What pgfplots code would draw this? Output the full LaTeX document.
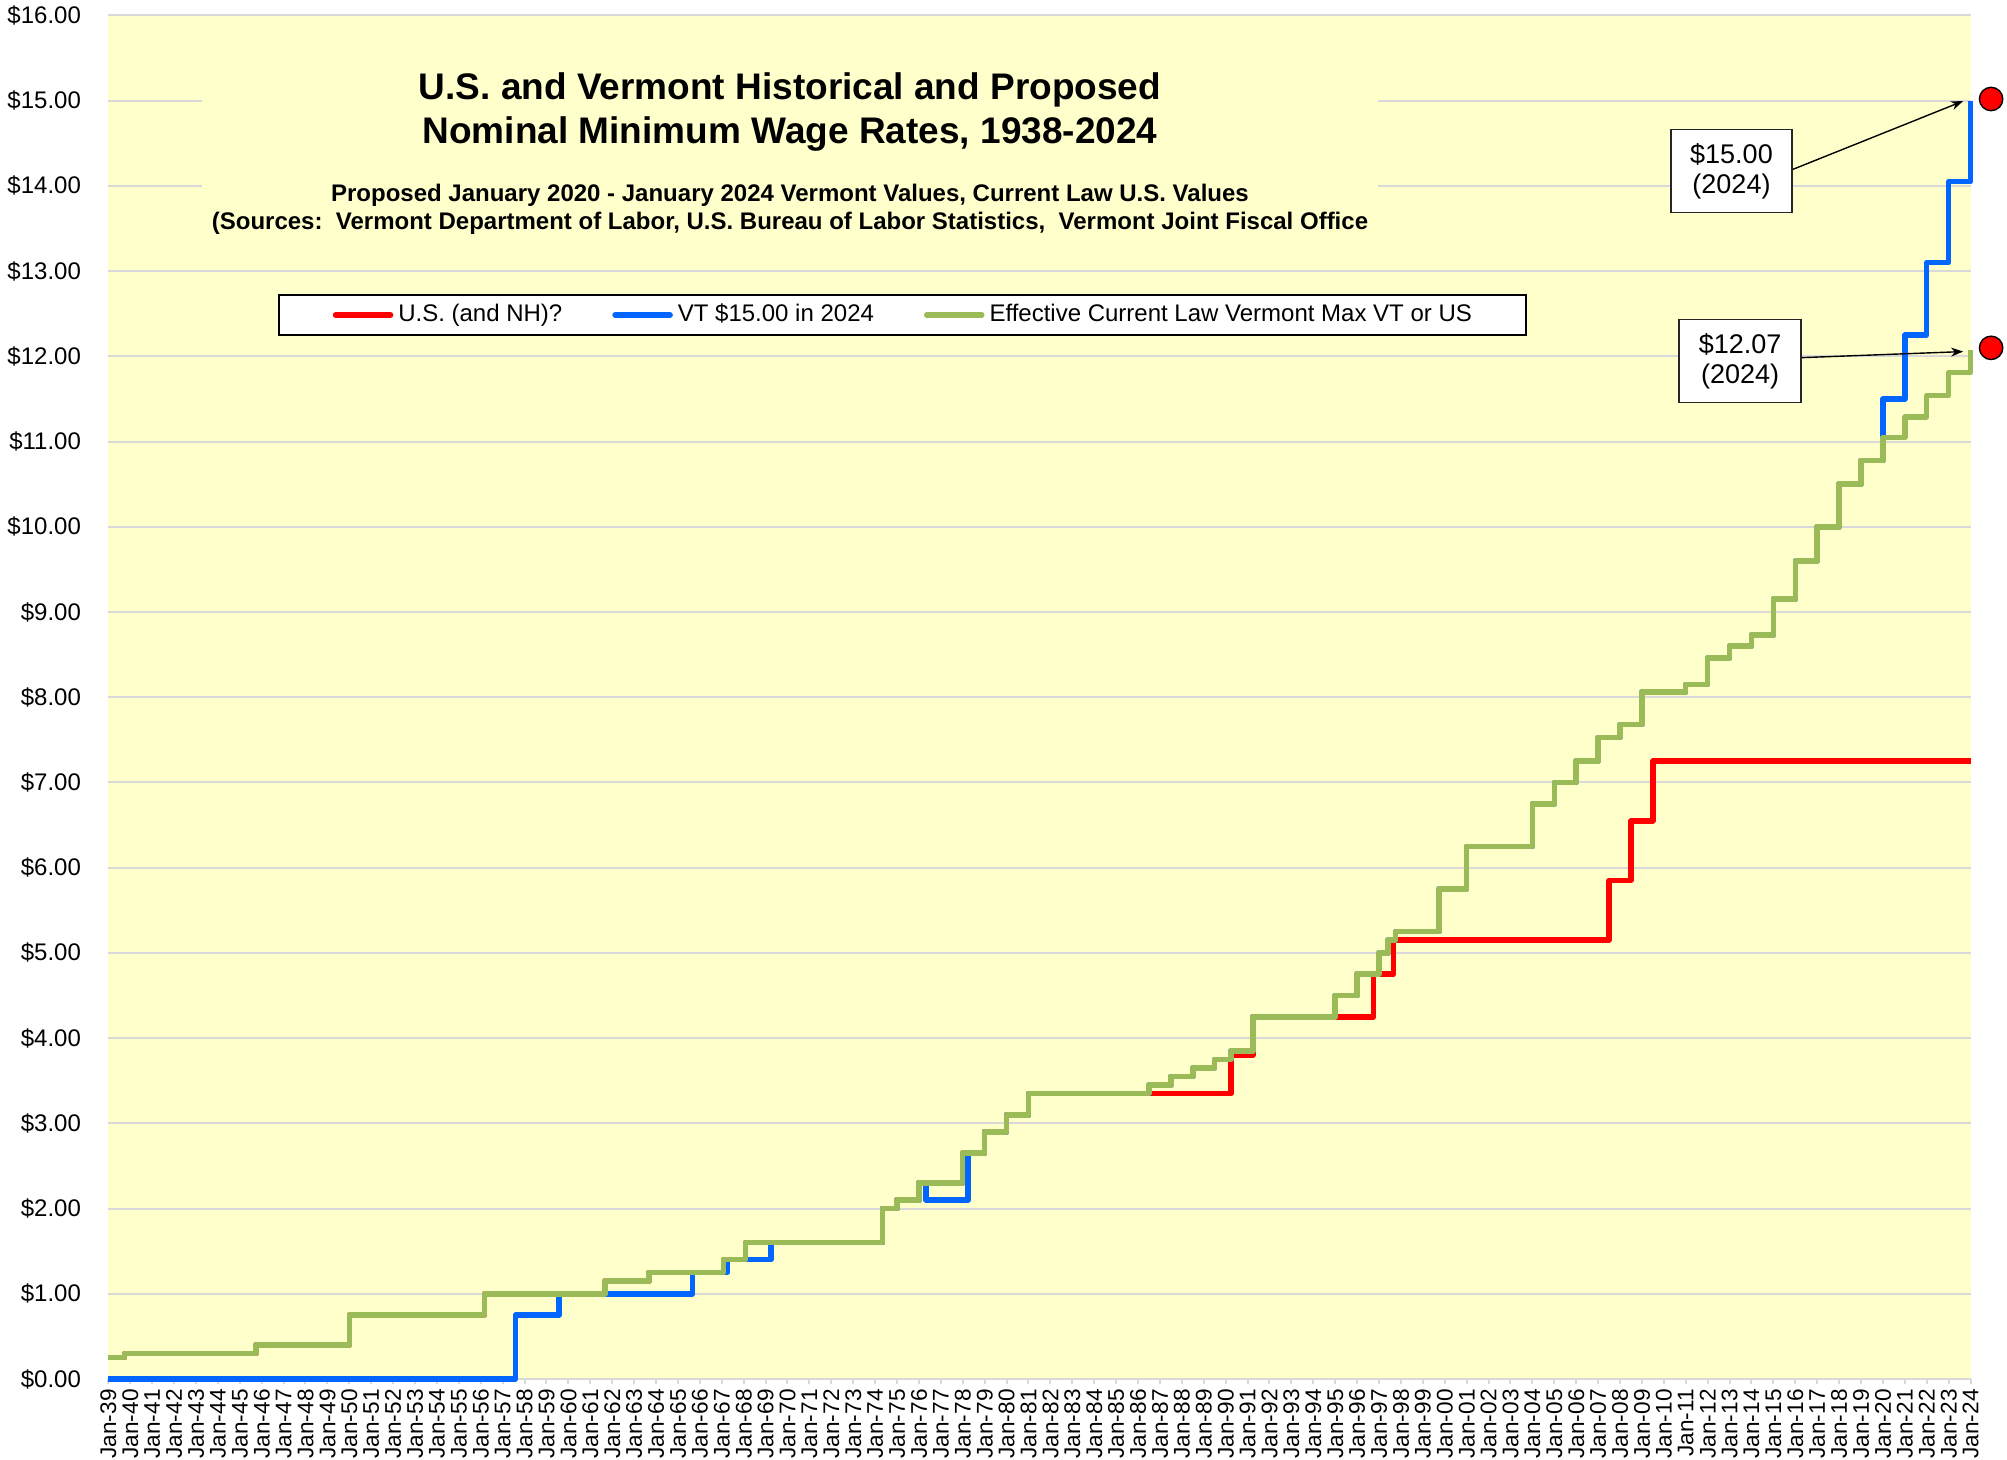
\documentclass[border=0pt]{standalone}
\usepackage{fontspec}
\setmainfont{Liberation Sans}
\usepackage{pgfplots}
\pgfplotsset{compat=1.18}
\usetikzlibrary{arrows.meta}
\definecolor{bgyellow}{HTML}{FFFFCC}
\definecolor{gridgray}{HTML}{D9D9D9}
\definecolor{usred}{HTML}{FF0000}
\definecolor{vtblue}{HTML}{0066FF}
\definecolor{effgreen}{HTML}{9BBB59}
\begin{document}
\begin{tikzpicture}
\useasboundingbox (-54.15bp,-40.5bp) rectangle (949.35bp,689.5bp);
\begin{axis}[
  at={(0,0)}, anchor=south west,
  scale only axis, width=931.1bp, height=681.75bp,
  xmin=1939, xmax=2024, ymin=0, ymax=16,
  clip=false,
  axis background/.style={fill=bgyellow},
  axis line style={draw=none},
  ymajorgrids, major grid style={draw=gridgray, line width=1bp},
  ytick={0,1,...,16},
  yticklabels={\$0.00,\$1.00,\$2.00,\$3.00,\$4.00,\$5.00,\$6.00,\$7.00,\$8.00,\$9.00,\$10.00,\$11.00,\$12.00,\$13.00,\$14.00,\$15.00,\$16.00},
  xtick={1939,1940,...,2024},
  xticklabels={Jan-39,Jan-40,Jan-41,Jan-42,Jan-43,Jan-44,Jan-45,Jan-46,Jan-47,Jan-48,Jan-49,Jan-50,Jan-51,Jan-52,Jan-53,Jan-54,Jan-55,Jan-56,Jan-57,Jan-58,Jan-59,Jan-60,Jan-61,Jan-62,Jan-63,Jan-64,Jan-65,Jan-66,Jan-67,Jan-68,Jan-69,Jan-70,Jan-71,Jan-72,Jan-73,Jan-74,Jan-75,Jan-76,Jan-77,Jan-78,Jan-79,Jan-80,Jan-81,Jan-82,Jan-83,Jan-84,Jan-85,Jan-86,Jan-87,Jan-88,Jan-89,Jan-90,Jan-91,Jan-92,Jan-93,Jan-94,Jan-95,Jan-96,Jan-97,Jan-98,Jan-99,Jan-00,Jan-01,Jan-02,Jan-03,Jan-04,Jan-05,Jan-06,Jan-07,Jan-08,Jan-09,Jan-10,Jan-11,Jan-12,Jan-13,Jan-14,Jan-15,Jan-16,Jan-17,Jan-18,Jan-19,Jan-20,Jan-21,Jan-22,Jan-23,Jan-24},
  xtick pos=bottom, ytick pos=left,
  ytick style={draw=none},
  xtick style={draw=gridgray, line width=1bp},
  tick align=outside, major tick length=2.5bp,
  x tick label style={yshift=-2.5bp, rotate=90, anchor=east, font=\fontsize{11.3bp}{13bp}\selectfont, inner sep=0pt, text depth=0pt},
  y tick label style={xshift=-11bp, anchor=east, font=\fontsize{12bp}{14bp}\selectfont, inner sep=0pt},
  /pgf/number format/assume math mode=true,
  legend columns=3,
  legend style={at={(0.4264,0.7803)}, anchor=center, draw=black, line width=1bp, fill=white,
    inner xsep=27bp, inner ysep=4.5bp, font=\fontsize{12bp}{14bp}\selectfont,
    nodes={inner sep=0pt, text height=8.8bp, text depth=2.6bp},
    /tikz/every odd column/.append style={column sep=2.5bp},
    /tikz/every even column/.append style={column sep=25bp}},
  legend cell align=left,
  legend image code/.code={\draw[#1, line width=2.75bp, line cap=round] (0bp,0bp) -- (27.5bp,0bp);},
]
% title box
\fill[bgyellow] ([xshift=46.85bp,yshift=567bp]rel axis cs:0,0) rectangle ([xshift=634.85bp,yshift=664.5bp]rel axis cs:0,0);

\addplot[const plot, color=usred, line width=2.75bp, line join=round] coordinates {
(1939.00,0.25) (1939.75,0.30) (1945.75,0.40) (1950.00,0.75) (1956.17,1.00)
(1961.67,1.15) (1963.67,1.25) (1967.08,1.40) (1968.08,1.60) (1974.33,2.00)
(1975.00,2.10) (1976.00,2.30) (1978.00,2.65) (1979.00,2.90) (1980.00,3.10)
(1981.00,3.35) (1990.25,3.80) (1991.25,4.25) (1996.75,4.75) (1997.67,5.15)
(2007.50,5.85) (2008.50,6.55) (2009.50,7.25) (2024.00,7.25)};
\addlegendentry{U.S. (and NH)?}

\addplot[const plot, color=vtblue, line width=2.75bp, line join=round] coordinates {
(1939.00,0.00) (1957.58,0.75) (1959.58,1.00) (1965.67,1.25) (1967.25,1.40)
(1969.25,1.60) (1974.33,2.00) (1975.00,2.10) (1976.00,2.30) (1976.33,2.10)
(1978.25,2.65) (1979.00,2.90) (1980.00,3.10) (1981.00,3.35) (1986.50,3.45)
(1987.50,3.55) (1988.50,3.65) (1989.50,3.75) (1990.25,3.85) (1991.25,4.25)
(1995.00,4.50) (1996.00,4.75) (1997.00,5.00) (1997.42,5.15) (1997.75,5.25)
(1999.75,5.75) (2001.00,6.25) (2004.00,6.75) (2005.00,7.00) (2006.00,7.25)
(2007.00,7.53) (2008.00,7.68) (2009.00,8.06) (2011.00,8.15) (2012.00,8.46)
(2013.00,8.60) (2014.00,8.73) (2015.00,9.15) (2016.00,9.60) (2017.00,10.00)
(2018.00,10.50) (2019.00,10.78) (2020.00,11.50) (2021.00,12.25) (2022.00,13.10)
(2023.00,14.05) (2024.00,15.00)};
\addlegendentry{VT \$15.00 in 2024}

\addplot[const plot, color=effgreen, line width=2.75bp, line join=round] coordinates {
(1939.00,0.25) (1939.75,0.30) (1945.75,0.40) (1950.00,0.75) (1956.17,1.00)
(1961.67,1.15) (1963.67,1.25) (1967.08,1.40) (1968.08,1.60) (1974.33,2.00)
(1975.00,2.10) (1976.00,2.30) (1978.00,2.65) (1979.00,2.90) (1980.00,3.10)
(1981.00,3.35) (1986.50,3.45) (1987.50,3.55) (1988.50,3.65) (1989.50,3.75)
(1990.25,3.85) (1991.25,4.25) (1995.00,4.50) (1996.00,4.75) (1997.00,5.00)
(1997.42,5.15) (1997.75,5.25) (1999.75,5.75) (2001.00,6.25) (2004.00,6.75)
(2005.00,7.00) (2006.00,7.25) (2007.00,7.53) (2008.00,7.68) (2009.00,8.06)
(2011.00,8.15) (2012.00,8.46) (2013.00,8.60) (2014.00,8.73) (2015.00,9.15)
(2016.00,9.60) (2017.00,10.00) (2018.00,10.50) (2019.00,10.78) (2020.00,11.05)
(2021.00,11.29) (2022.00,11.54) (2023.00,11.81) (2024.00,12.07)};
\addlegendentry{Effective Current Law Vermont Max VT or US}

\addplot[forget plot, only marks, mark=*, mark size=5.85bp, mark options={fill=usred, draw=black, line width=0.7bp}] coordinates {(2024.94,15.02) (2024.94,12.10)};

% titles
\node[anchor=base, font=\fontsize{18.5bp}{21.7bp}\selectfont\bfseries] at ([xshift=340.85bp,yshift=639.5bp]rel axis cs:0,0) {U.S. and Vermont Historical and Proposed};
\node[anchor=base, font=\fontsize{18.5bp}{21.7bp}\selectfont\bfseries] at ([xshift=340.85bp,yshift=617.85bp]rel axis cs:0,0) {Nominal Minimum Wage Rates, 1938-2024};
\node[anchor=base, font=\fontsize{12bp}{14bp}\selectfont\bfseries] at ([xshift=340.85bp,yshift=588.65bp]rel axis cs:0,0) {Proposed January 2020 - January 2024 Vermont Values, Current Law U.S. Values};
\node[anchor=base, font=\fontsize{12bp}{14bp}\selectfont\bfseries] at ([xshift=340.85bp,yshift=574.5bp]rel axis cs:0,0) {(Sources:\ \ Vermont Department of Labor, U.S. Bureau of Labor Statistics,\ \ Vermont Joint Fiscal Office};

% annotations
\draw[-{Stealth[length=6bp,width=4.5bp]}, line width=0.7bp] (axis cs:2015.85,14.19) -- (axis cs:2023.66,14.995);
\draw[-{Stealth[length=6bp,width=4.5bp]}, line width=0.7bp] (axis cs:2016.31,11.985) -- (axis cs:2023.66,12.056);
\node[draw=black!85, fill=white, line width=0.7bp, minimum width=60.5bp, minimum height=41.5bp, inner sep=0pt, align=center, font=\fontsize{13.5bp}{15bp}\selectfont] at (axis cs:2013.09,14.175) {\$15.00\\(2024)};
\node[draw=black!85, fill=white, line width=0.7bp, minimum width=61bp, minimum height=41.5bp, inner sep=0pt, align=center, font=\fontsize{13.5bp}{15bp}\selectfont] at (axis cs:2013.48,11.944) {\$12.07\\(2024)};
\end{axis}
\end{tikzpicture}
\end{document}
